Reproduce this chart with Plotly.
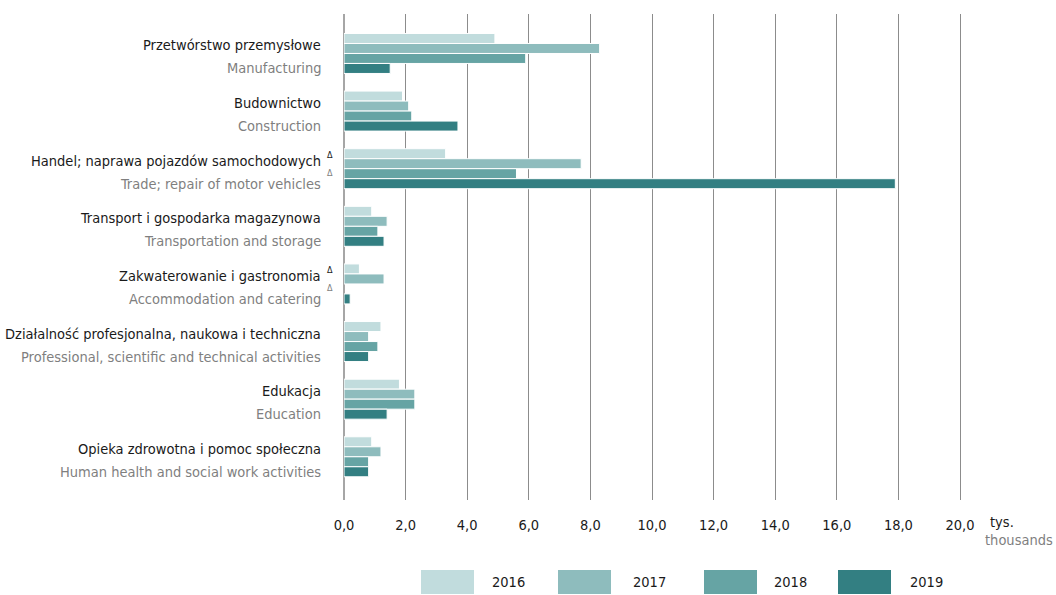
import plotly.graph_objects as go

categories_pl = [
    "Przetwórstwo przemysłowe",
    "Budownictwo",
    "Handel; naprawa pojazdów samochodowych",
    "Transport i gospodarka magazynowa",
    "Zakwaterowanie i gastronomia",
    "Działalność profesjonalna, naukowa i techniczna",
    "Edukacja",
    "Opieka zdrowotna i pomoc społeczna",
]
categories_en = [
    "Manufacturing",
    "Construction",
    "Trade; repair of motor vehicles",
    "Transportation and storage",
    "Accommodation and catering",
    "Professional, scientific and technical activities",
    "Education",
    "Human health and social work activities",
]
delta_flags = [False, False, True, False, True, False, False, False]

years = ["2016", "2017", "2018", "2019"]
v2016 = [4.9, 1.9, 3.3, 0.9, 0.5, 1.2, 1.8, 0.9]
v2017 = [8.3, 2.1, 7.7, 1.4, 1.3, 0.8, 2.3, 1.2]
v2018 = [5.9, 2.2, 5.6, 1.1, None, 1.1, 2.3, 0.8]
v2019 = [1.5, 3.7, 17.9, 1.3, 0.2, 0.8, 1.4, 0.8]
series = [v2016, v2017, v2018, v2019]
colors = ["#c1dcdd", "#8ebcbd", "#66a4a4", "#337f82"]

x_ticks = [0, 2, 4, 6, 8, 10, 12, 14, 16, 18, 20]

FONT = "DejaVu Sans Condensed"
FS = 14.5
ypos = list(range(len(categories_pl)))

fig = go.Figure()
for yr, vals, col in zip(years, series, colors):
    fig.add_trace(go.Bar(
        y=ypos, x=vals, orientation="h", name=yr,
        marker=dict(color=col, line=dict(color="white", width=1)),
        showlegend=False,
    ))

annotations = []
for i, (pl, en, d) in enumerate(zip(categories_pl, categories_en, delta_flags)):
    annotations.append(dict(x=0, xref="paper", y=i, yref="y", text=pl, showarrow=False,
                            xanchor="right", yanchor="middle", xshift=-21, yshift=8,
                            font=dict(family=FONT, size=FS, color="#1a1a1a")))
    annotations.append(dict(x=0, xref="paper", y=i, yref="y", text=en, showarrow=False,
                            xanchor="right", yanchor="middle", xshift=-21, yshift=-15,
                            font=dict(family=FONT, size=FS, color="#7f7f7f")))
    if d:
        annotations.append(dict(x=0, xref="paper", y=i, yref="y", text="Δ", showarrow=False,
                                xanchor="center", yanchor="middle", xshift=-14, yshift=14,
                                font=dict(family=FONT, size=9, color="#1a1a1a")))
        annotations.append(dict(x=0, xref="paper", y=i, yref="y", text="Δ", showarrow=False,
                                xanchor="center", yanchor="middle", xshift=-14, yshift=-4,
                                font=dict(family=FONT, size=9, color="#7f7f7f")))

shapes = []
W, H = 1056, 595
ml, mr, mt, mb = 344, 81, 13.5, 95
pw, ph = W - ml - mr, H - mt - mb


def px_to_paper_x(px):
    return (px - ml) / pw


def px_to_paper_y(py):
    return (H - mb - py) / ph


annotations.append(dict(x=px_to_paper_x(988), xref="paper", y=px_to_paper_y(522), yref="paper",
                        text="tys.", showarrow=False, xanchor="left", yanchor="middle",
                        font=dict(family=FONT, size=FS, color="#1a1a1a")))
annotations.append(dict(x=px_to_paper_x(1055), xref="paper", y=px_to_paper_y(540), yref="paper",
                        text="thousands", showarrow=False, xanchor="right", yanchor="middle",
                        font=dict(family=FONT, size=FS, color="#7f7f7f")))

sw_x = [421, 558, 704, 838]
lbl_x = [490, 631, 772, 908]
for sx, lx, yr, col in zip(sw_x, lbl_x, years, colors):
    shapes.append(dict(type="rect", xref="paper", yref="paper",
                       x0=px_to_paper_x(sx), x1=px_to_paper_x(sx + 53),
                       y0=px_to_paper_y(594), y1=px_to_paper_y(570),
                       fillcolor=col, line=dict(width=0)))
    annotations.append(dict(x=px_to_paper_x(lx), xref="paper", y=px_to_paper_y(582), yref="paper",
                            text=yr, showarrow=False, xanchor="left", yanchor="middle",
                            font=dict(family=FONT, size=FS, color="#1a1a1a")))

fig.update_layout(
    width=W, height=H,
    margin=dict(l=ml, r=mr, t=mt, b=mb, pad=0),
    plot_bgcolor="white", paper_bgcolor="white",
    barmode="group", bargap=0.306, bargroupgap=0,
    separators=", ",
    font=dict(family=FONT, size=FS, color="#1a1a1a"),
    annotations=annotations,
    shapes=shapes,
    showlegend=False,
)
fig.update_xaxes(
    range=[0, (W - mr - ml) / 30.8],
    tickvals=x_ticks, tickformat=".1f",
    showgrid=True, gridcolor="#8c8c8c", gridwidth=1,
    zeroline=True, zerolinecolor="#a6a6a6", zerolinewidth=1.5,
    showline=False, ticks="", ticklabelstandoff=14,
    tickfont=dict(family=FONT, size=FS, color="#1a1a1a"),
)
fig.update_yaxes(
    range=[7.75, -0.685], showticklabels=False, showgrid=False, zeroline=False,
    showline=False,
)

fig.write_html("out.html", config={"displayModeBar": False},
               post_script="document.body.style.margin='0';")
